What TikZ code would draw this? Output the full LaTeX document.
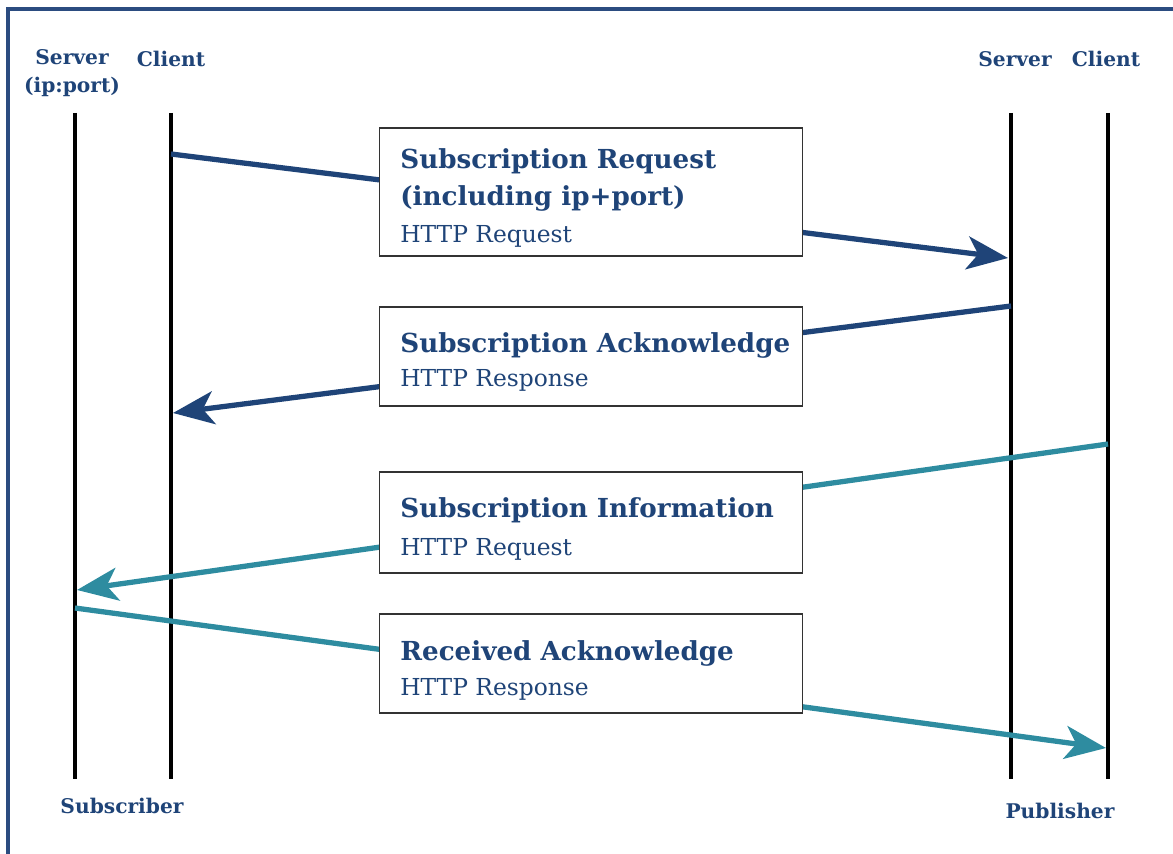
\documentclass[tikz,border=0pt]{standalone}
\usepackage{fontspec}
\setmainfont{DejaVu Serif}
\usetikzlibrary{arrows.meta}

\definecolor{msgblue}{HTML}{1F4478}
\definecolor{msgteal}{HTML}{2E8CA0}
\definecolor{frameblue}{HTML}{2B4C80}

\tikzset{
  lifeline/.style={line width=2.3pt, black},
  msg/.style={line width=3pt, -{Stealth[length=0.82cm, width=0.66cm, inset=0.22cm]}},
  msgbox/.style={draw=black!80, line width=0.6pt, fill=white, minimum width=8.48cm},
  msgtitle/.style={anchor=base west, inner sep=0pt, text=msgblue, align=left,
    font=\bfseries\fontsize{14.9}{21.3}\selectfont},
  msghttp/.style={anchor=base west, inner sep=0pt, text=msgblue,
    font=\fontsize{13.3}{16}\selectfont},
  role/.style={text=msgblue, font=\bfseries\fontsize{11.5}{16}\selectfont, align=center}
}

\begin{document}
\begin{tikzpicture}[x=0.02cm, y=-0.02cm]
    \useasboundingbox (0,0) rectangle (1173,854);
    % frame
    \draw[frameblue, line width=1.8pt] (8,860) -- (8,9) -- (1180,9);

    % lifelines
    \coordinate (subsrvT) at (75,113);  \coordinate (subsrvB) at (75,779);
    \coordinate (subcliT) at (171,113); \coordinate (subcliB) at (171,779);
    \coordinate (pubsrvT) at (1011,113); \coordinate (pubsrvB) at (1011,779);
    \coordinate (pubcliT) at (1108,113); \coordinate (pubcliB) at (1108,779);
    \draw[lifeline] (subsrvT) -- (subsrvB);
    \draw[lifeline] (subcliT) -- (subcliB);
    \draw[lifeline] (pubsrvT) -- (pubsrvB);
    \draw[lifeline] (pubcliT) -- (pubcliB);

    \node[role] (subsrv) at (72,73) {Server\\(ip:port)};
    \node[role] (subcli) at (171,59) {Client};
    \node[role] (pubsrv) at (1015,59) {Server};
    \node[role] (pubcli) at (1106,59) {Client};
    \node[role] (sub) at (122,806) {Subscriber};
    \node[role] (pub) at (1060,811) {Publisher};

    % messages
    \coordinate (reqA) at (171,154);  \coordinate (reqB) at (1008,258);
    \coordinate (ackA) at (1011,306); \coordinate (ackB) at (173,413);
    \coordinate (infA) at (1108,444); \coordinate (infB) at (77,590);
    \coordinate (rcvA) at (75,608);   \coordinate (rcvB) at (1106,748);
    \draw[msg, msgblue] (reqA) -- (reqB);
    \draw[msg, msgblue] (ackA) -- (ackB);
    \draw[msg, msgteal] (infA) -- (infB);
    \draw[msg, msgteal] (rcvA) -- (rcvB);

    \node[msgbox, minimum height=2.56cm] (req) at (591,192) {};
    \node[msgtitle] (reqttl) at (400,206) {Subscription Request\\(including ip+port)};
    \node[msghttp] (reqhttp) at (400,243) {HTTP Request};

    \node[msgbox, minimum height=1.98cm] (ack) at (591,356.5) {};
    \node[msgtitle] (ackttl) at (400,353) {Subscription Acknowledge};
    \node[msghttp] (ackhttp) at (400,387) {HTTP Response};

    \node[msgbox, minimum height=2.02cm] (inf) at (591,522.5) {};
    \node[msgtitle] (infttl) at (400,518) {Subscription Information};
    \node[msghttp] (infhttp) at (400,556) {HTTP Request};

    \node[msgbox, minimum height=1.98cm] (rcv) at (591,663.5) {};
    \node[msgtitle] (rcvttl) at (400,660) {Received Acknowledge};
    \node[msghttp] (rcvhttp) at (400,695) {HTTP Response};
\end{tikzpicture}
\end{document}
